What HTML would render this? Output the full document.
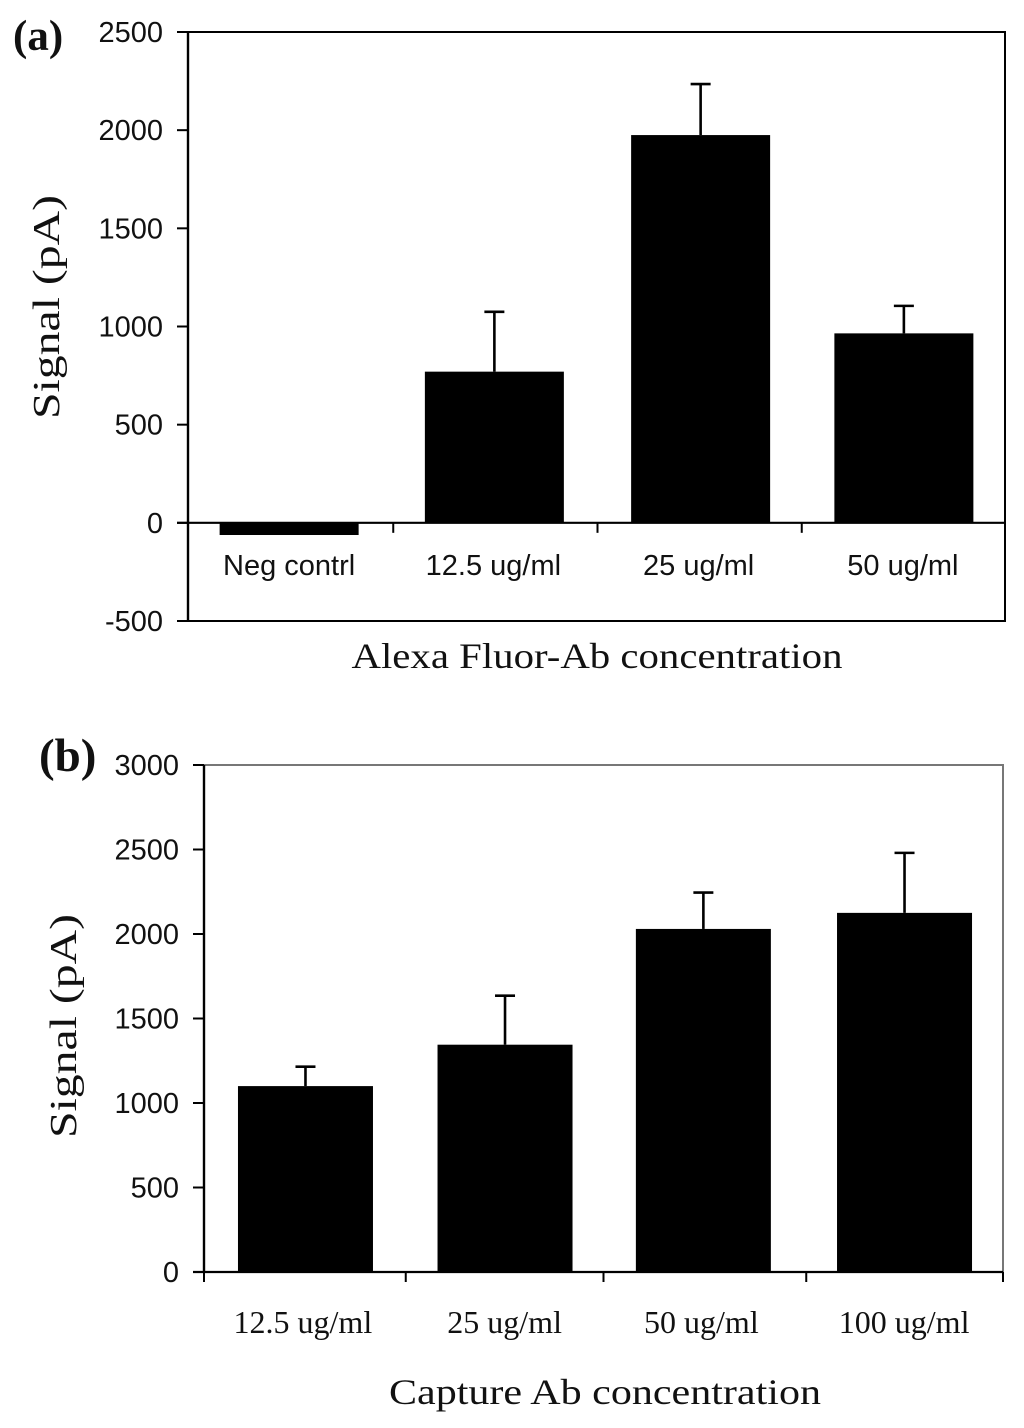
<!DOCTYPE html>
<html lang="en">
<head>
<meta charset="utf-8">
<title>Signal vs concentration bar charts</title>
<style>
html,body{margin:0;padding:0;background:#fff;}
svg{display:block;}
.tick{font-family:"Liberation Sans",Arial,sans-serif;font-size:29px;fill:#111;}
.serif{font-family:"Liberation Serif","Times New Roman",serif;fill:#111;}
</style>
</head>
<body>
<svg id="figure" width="1024" height="1428" viewBox="0 0 1024 1428" xmlns="http://www.w3.org/2000/svg"></svg>
<script>
const categoriesA = ['Neg contrl', '12.5 ug/ml', '25 ug/ml', '50 ug/ml'];
const valuesA = [-62, 770, 1975, 965];
const errorTopsA = [null, 1075, 2235, 1105];
const yTicksA = [-500, 0, 500, 1000, 1500, 2000, 2500];

const categoriesB = ['12.5 ug/ml', '25 ug/ml', '50 ug/ml', '100 ug/ml'];
const valuesB = [1100, 1345, 2030, 2125];
const errorTopsB = [1215, 1635, 2245, 2480];
const yTicksB = [0, 500, 1000, 1500, 2000, 2500, 3000];

const svg = document.getElementById('figure');
const NS = 'http://www.w3.org/2000/svg';

function make(tag, attrs, text) {
  const el = document.createElementNS(NS, tag);
  for (const k in attrs) el.setAttribute(k, attrs[k]);
  if (text !== undefined) el.textContent = text;
  svg.appendChild(el);
  return el;
}

function drawChart(cfg) {
  const yScale = v => cfg.y0 + (v - cfg.vMin) * (cfg.yTop - cfg.y0) / (cfg.vMax - cfg.vMin);
  const band = (cfg.x1 - cfg.x0) / cfg.categories.length;
  const xCenter = i => cfg.x0 + band * (i + 0.5);
  const zero = yScale(0);

  const frame = make('rect', {x: cfg.x0, y: cfg.yTop, width: cfg.x1 - cfg.x0, height: cfg.y0 - cfg.yTop, fill: 'none', stroke: cfg.frameColor, 'stroke-width': 2});
  
  

  const yAxis = make('line', {x1: cfg.x0, x2: cfg.x0, y1: cfg.yTop, y2: cfg.y0, stroke: '#000', 'stroke-width': 2.4});
  
  

  cfg.yTicks.forEach(v => {
    const y = yScale(v);
    const tick = make('line', {x1: cfg.x0 - 11, x2: cfg.x0, y1: y, y2: y, stroke: '#000', 'stroke-width': 2});
    
    
    const label = make('text', {x: cfg.x0 - 25, y: y + 10, 'text-anchor': 'end', class: 'tick'}, String(v));
    
    
  });

  cfg.values.forEach((v, i) => {
    const cx = xCenter(i) + cfg.barShift[i];
    const yVal = yScale(v);
    const top = cfg.errorTops[i];
    if (top !== null) {
      const stem = make('line', {x1: cx, x2: cx, y1: yScale(top), y2: yVal, stroke: '#000', 'stroke-width': 2.6});
      
      
      const cap = make('line', {x1: cx - 10, x2: cx + 10, y1: yScale(top), y2: yScale(top), stroke: '#000', 'stroke-width': 2.6});
      
      
    }
    const bar = make('rect', {x: cx - cfg.barWidth / 2, y: Math.min(yVal, zero), width: cfg.barWidth, height: Math.abs(zero - yVal), fill: '#000'});
    
    
  });

  const xAxis = make('line', {x1: cfg.x0 - 11, x2: cfg.x1, y1: zero, y2: zero, stroke: '#000', 'stroke-width': 2.2});
  
  

  for (let i = 0; i <= cfg.categories.length; i++) {
    const tx = cfg.x0 + band * i + cfg.tickShift[i];
    const xTick = make('line', {x1: tx, x2: tx, y1: zero, y2: zero + 10, stroke: '#000', 'stroke-width': 2});
    
    
  }

  cfg.categories.forEach((c, i) => {
    const attrs = {x: xCenter(i) + cfg.labelShift[i], y: cfg.catY, 'text-anchor': 'middle', class: cfg.catClass};
    if (cfg.catSize) attrs['font-size'] = cfg.catSize;
    const label = make('text', attrs, c);
    
    
  });

  const xTitle = make('text', {x: cfg.xTitleX, y: cfg.xTitleY, 'text-anchor': 'middle', class: 'serif', 'font-size': 36, textLength: cfg.xTitleLen, lengthAdjust: 'spacingAndGlyphs'}, cfg.xTitle);
  
  

  const yTitle = make('text', {x: 0, y: 0, transform: 'translate(' + cfg.yTitleX + ' ' + cfg.yTitleY + ') rotate(-90)', 'text-anchor': 'middle', class: 'serif', 'font-size': 38, textLength: 224, lengthAdjust: 'spacingAndGlyphs'}, 'Signal (pA)');
  
  

  const panel = make('text', {x: cfg.panelX, y: cfg.panelY, class: 'serif', 'font-size': cfg.panelSize, 'font-weight': 'bold'}, cfg.panel);
  
  
}

drawChart({
  id: 'chart-a', panel: '(a)', panelX: 13, panelY: 50, panelSize: 43,
  x0: 188, x1: 1005, yTop: 32, y0: 621, vMin: -500, vMax: 2500,
  frameColor: '#000',
  categories: categoriesA, values: valuesA, errorTops: errorTopsA, yTicks: yTicksA,
  barWidth: 139, barShift: [-1, 0, 2, 1], labelShift: [-1, -1, 0, 0], tickShift: [0, 1, 1, 1, 0],
  catY: 575, catClass: 'tick',
  xTitle: 'Alexa Fluor-Ab concentration', xTitleX: 597, xTitleY: 668, xTitleLen: 491,
  yTitleX: 59, yTitleY: 307
});

drawChart({
  id: 'chart-b', panel: '(b)', panelX: 39, panelY: 771, panelSize: 47,
  x0: 204, x1: 1003, yTop: 765, y0: 1272, vMin: 0, vMax: 3000,
  frameColor: '#777',
  categories: categoriesB, values: valuesB, errorTops: errorTopsB, yTicks: yTicksB,
  barWidth: 135, barShift: [1.6, 1.4, 0, 1.4], labelShift: [-1, 1, -2, 1], tickShift: [0, 2, 0, 3, 0],
  catY: 1333, catClass: 'serif', catSize: 32,
  xTitle: 'Capture Ab concentration', xTitleX: 605, xTitleY: 1404, xTitleLen: 432,
  yTitleX: 76, yTitleY: 1026
});
</script>
</body>
</html>
